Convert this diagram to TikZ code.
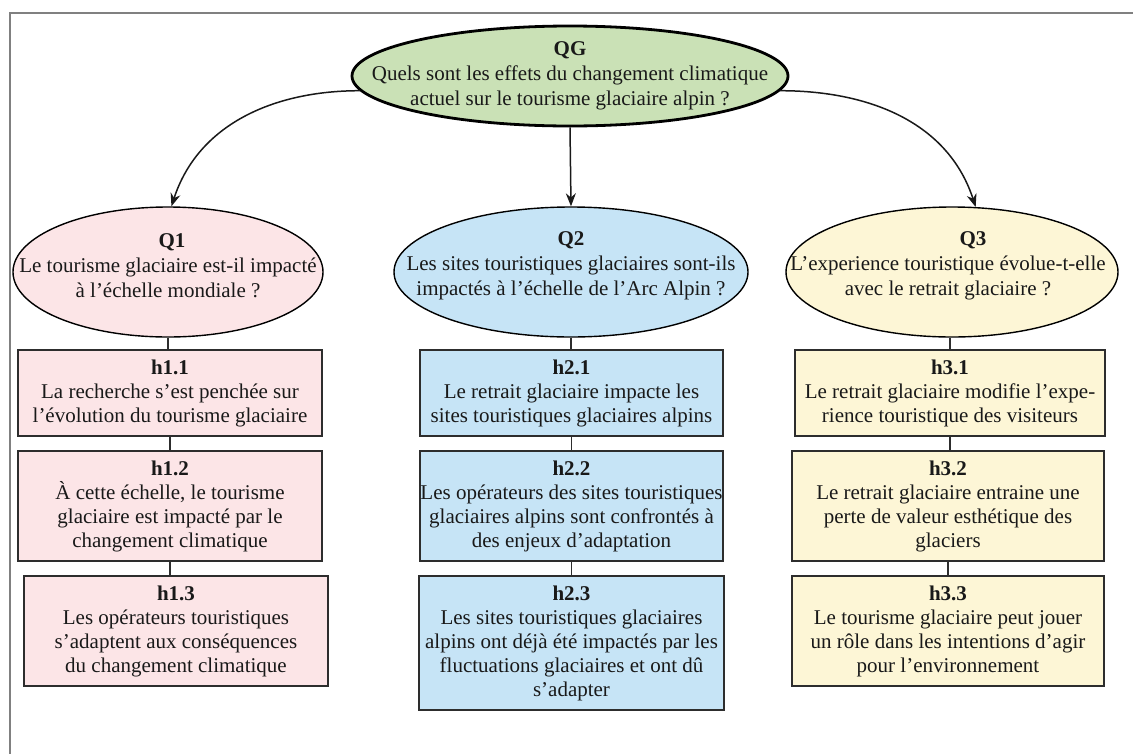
\documentclass[tikz,border=0pt]{standalone}
\usepackage{fontspec}
\setmainfont{Liberation Serif}
\usetikzlibrary{shapes.geometric,arrows.meta}
\definecolor{qgfill}{RGB}{202,225,182}
\definecolor{pinkfill}{RGB}{252,229,231}
\definecolor{bluefill}{RGB}{198,228,246}
\definecolor{yellowfill}{RGB}{253,246,214}
\definecolor{framec}{RGB}{128,128,128}
\definecolor{boxline}{RGB}{45,45,45}
\tikzset{
  txt/.style={align=center, font=\fontsize{21}{25}\selectfont, inner sep=0pt, text=black!90},
  qell/.style={ellipse, draw=black, line width=1.4pt, inner sep=0pt},
  hbox/.style={rectangle, draw=boxline, line width=1.8pt, inner sep=0pt, align=center,
               font=\fontsize{21}{24}\selectfont, text=black!90},
  link/.style={draw=boxline, line width=1.3pt},
  arr/.style={draw=black!90, line width=1.5pt, -{Stealth[length=13pt,width=10pt]}},
}
\begin{document}
\begin{tikzpicture}[x=1pt,y=-1pt]
\useasboundingbox (0,0) rectangle (1133,753);
\fill[white] (0,0) rectangle (1133,753);
\draw[framec, line width=2.5pt] (10,770) -- (10,13) -- (1145,13);

% top question
\node[qell, fill=qgfill, line width=2.8pt, minimum width=436pt, minimum height=100pt] (QG) at (570,76) {};
\node[txt] (QGt) at (QG.center) {\textbf{QG}\\Quels sont les effets du changement climatique\\actuel sur le tourisme glaciaire alpin ?};

% sub-questions
\node[qell, fill=pinkfill, minimum width=310pt, minimum height=130pt] (Q1) at (168,272) {};
\node[txt, yshift=6pt] (Q1t) at (Q1.center) {\hspace*{8pt}\textbf{Q1}\\Le tourisme glaciaire est-il impacté\\à l’échelle mondiale ?};

\node[qell, fill=bluefill, minimum width=354pt, minimum height=130pt] (Q2) at (571,272) {};
\node[txt, yshift=6pt] (Q2t) at (Q2.center) {\textbf{Q2}\\Les sites touristiques glaciaires sont-ils\\impactés à l’échelle de l’Arc Alpin ?};

\node[qell, fill=yellowfill, minimum width=332pt, minimum height=130pt] (Q3) at (952,272) {};
\node[txt, yshift=6pt, xshift=-4pt] (Q3t) at (Q3.center) {\hspace*{50pt}\textbf{Q3}\\L’experience touristique évolue-t-elle\\avec le retrait glaciaire ?};

% arrows
\draw[arr] (QG.184) to[out=180,in=72] (Q1.87);
\draw[arr] (QG.south) -- (Q2.north);
\draw[arr] (QG.-4) to[out=0,in=108] (Q3.70);

% column 1
\node[hbox, fill=pinkfill, minimum width=304pt, minimum height=86pt] (h11) at (170,393)
  {\textbf{h1.1}\\La recherche s’est penchée sur\\l’évolution du tourisme glaciaire};
\node[hbox, fill=pinkfill, minimum width=304pt, minimum height=110pt] (h12) at (170,506)
  {\textbf{h1.2}\\À cette échelle, le tourisme\\glaciaire est impacté par le\\changement climatique};
\node[hbox, fill=pinkfill, minimum width=304pt, minimum height=110pt] (h13) at (176,631)
  {\textbf{h1.3}\\Les opérateurs touristiques\\s’adaptent aux conséquences\\du changement climatique};

% column 2
\node[hbox, fill=bluefill, minimum width=303pt, minimum height=86pt] (h21) at (571.5,393)
  {\textbf{h2.1}\\Le retrait glaciaire impacte les\\sites touristiques glaciaires alpins};
\node[hbox, fill=bluefill, minimum width=303pt, minimum height=110pt] (h22) at (571.5,506)
  {\textbf{h2.2}\\Les opérateurs des sites touristiques\\glaciaires alpins sont confrontés à\\des enjeux d’adaptation};
\node[hbox, fill=bluefill, minimum width=305pt, minimum height=134pt] (h23) at (571.5,643)
  {\textbf{h2.3}\\Les sites touristiques glaciaires\\alpins ont déjà été impactés par les\\fluctuations glaciaires et ont dû\\s’adapter};

% column 3
\node[hbox, fill=yellowfill, minimum width=310pt, minimum height=86pt] (h31) at (950,393)
  {\textbf{h3.1}\\Le retrait glaciaire modifie l’expe-\\rience touristique des visiteurs};
\node[hbox, fill=yellowfill, minimum width=312pt, minimum height=110pt] (h32) at (948,506)
  {\textbf{h3.2}\\Le retrait glaciaire entraine une\\perte de valeur esthétique des\\glaciers};
\node[hbox, fill=yellowfill, minimum width=312pt, minimum height=110pt] (h33) at (948,631)
  {\textbf{h3.3}\\Le tourisme glaciaire peut jouer\\un rôle dans les intentions d’agir\\pour l’environnement};

% vertical links
\draw[link] (Q1.south) -- (Q1.south |- h11.north);
\draw[link] (h11.south) -- (h11.south |- h12.north);
\draw[link] (h12.south) -- (h12.south |- h13.north);
\draw[link] (Q2.south) -- (Q2.south |- h21.north);
\draw[link] (h21.south) -- (h21.south |- h22.north);
\draw[link] (h22.south) -- (h22.south |- h23.north);
\draw[link] (h31.north |- Q3.south) -- (h31.north);
\draw[link] (h31.south) -- (h31.south |- h32.north);
\draw[link] (h32.south) -- (h32.south |- h33.north);
\end{tikzpicture}
\end{document}
